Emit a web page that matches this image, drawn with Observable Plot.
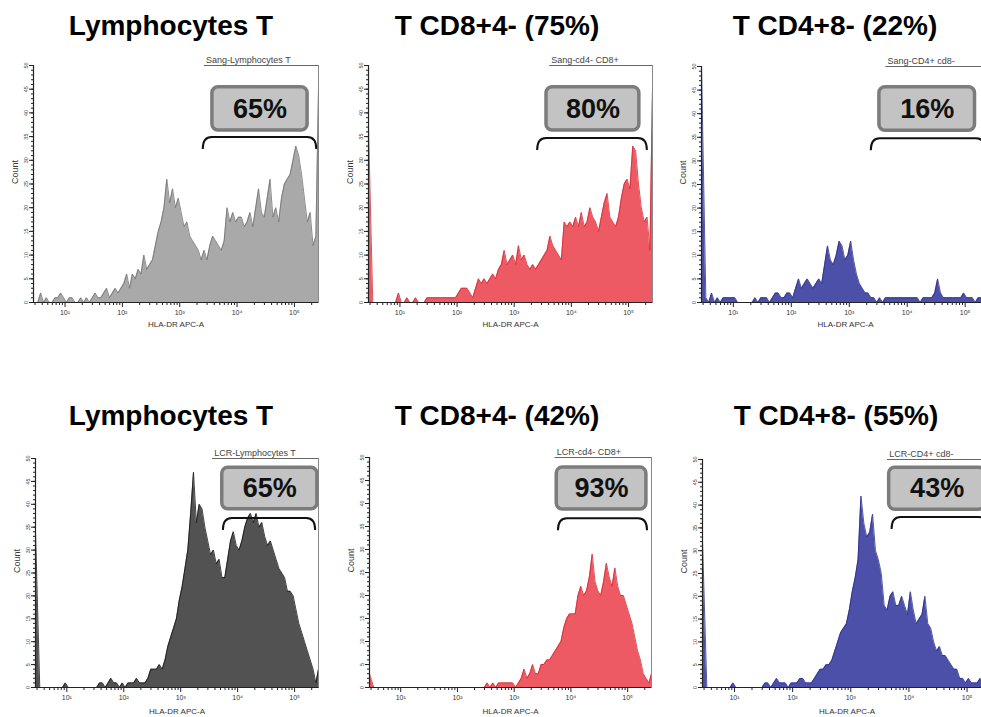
<!DOCTYPE html>
<html><head><meta charset="utf-8">
<script src="https://cdn.jsdelivr.net/npm/d3@7"></script>
<script src="https://cdn.jsdelivr.net/npm/@observablehq/plot@0.6"></script>
<style>
body{margin:0;background:#fff;}
#page{position:relative;width:981px;height:717px;overflow:hidden;font-family:"Liberation Sans",Arial,sans-serif;background:#fff;}
.panel{position:absolute;}
#titles{position:absolute;left:0;top:0;}
</style></head><body><div id="page"></div>
<script>
// ---- data ----
const titles = ["Lymphocytes T", "T CD8+4- (75%)", "T CD4+8- (22%)", "Lymphocytes T", "T CD8+4- (42%)", "T CD4+8- (55%)"];
const gateNames = ["Sang-Lymphocytes T", "Sang-cd4- CD8+", "Sang-CD4+ cd8-", "LCR-Lymphocytes T", "LCR-cd4- CD8+", "LCR-CD4+ cd8-"];
const gatePercents = ["65%", "80%", "16%", "65%", "93%", "43%"];
// gate (bracket) limits in log10 of HLA-DR APC-A
const gateLo = [3.41, 3.41, 3.38, 3.75, 3.78, 3.71];
const gateHi = [5.39, 5.33, 5.35, 5.37, 5.35, 5.36];
// channel grid: log10 from 0.45 in steps of 0.05 (100 channels), display up to 10^5.42
const channelLogMin = 0.45, channelLogStep = 0.05, displayLogMax = 5.42;
const majorTicks = [10, 100, 1000, 10000, 100000];
const majorTickLabels = ["10¹", "10²", "10³", "10⁴", "10⁵"];
const countTicks = [0, 5, 10, 15, 20, 25, 30, 35, 40, 45, 50];

const sangLymphoT = [0,0,2,0,1,0,0,1,1,2, 1,0,1,1,0,0,1,0,1,0, 1,2,1,1,2,3,1,2,3,2, 3,4,6,3,6,5,7,6,10,7,
  8,9,12,15,17,20,26,21,24,20, 22,19,16,17,14,13,12,11,9,11, 9,12,14,13,12,11,13,20,17,19,
  17,18,18,16,17,19,16,20,24,19, 18,22,26,18,20,17,22,25,26,27, 30,33,31,27,22,17,19,12,14,45];
const sangCD8 = [37,0,0,0,0,0,0,0,0,0, 2,0,0,1,0,0,1,0,0,0, 1,1,1,1,1,1,1,1,1,1, 1,2,3,3,3,2,1,3,5,4,
  5,4,5,6,5,7,8,11,8,9, 10,8,12,9,10,8,7,8,7,8, 9,10,11,14,12,11,10,9,17,16,
  17,16,18,16,19,16,17,20,18,17, 15,18,21,23,18,17,16,18,22,25, 26,24,33,32,25,20,17,18,11,45];
const sangCD4 = [50,1,0,2,0,1,0,1,1,1, 1,1,0,0,0,0,0,0,1,0, 1,1,1,0,1,2,2,1,1,2, 2,1,3,5,3,4,5,4,3,4,
  5,4,8,12,9,8,10,13,12,9, 10,13,9,6,4,3,2,2,1,1, 0,1,0,1,1,1,1,1,1,1,
  1,1,1,1,1,0,1,1,1,1, 2,5,2,1,1,1,1,1,1,1, 2,1,1,1,0,1,1,1,1,1];
const lcrLymphoT = [34,0,0,0,0,0,0,0,0,0, 1,0,0,0,0,0,0,0,0,0, 0,0,1,1,0,1,2,1,1,0, 1,0,1,1,1,2,1,1,1,2,
  4,4,4,5,4,6,9,11,13,15, 19,22,26,30,38,47,36,40,39,35, 32,29,30,27,28,24,24,28,32,34,
  31,30,32,35,37,38,36,38,35,36, 33,31,32,30,28,26,25,24,21,21, 20,17,14,12,10,8,6,4,1,4];
const lcrCD8 = [3,0,0,0,0,0,0,0,0,0, 0,0,0,0,0,0,0,0,0,0, 0,0,0,0,0,0,0,0,0,0, 0,0,0,0,0,0,0,0,0,0,
  0,1,0,1,0,1,1,1,1,1, 1,0,1,2,4,2,3,5,3,3, 5,5,6,6,7,8,9,10,13,15,
  16,16,16,20,22,20,21,24,29,23, 21,20,23,27,24,22,26,22,20,20, 18,16,14,11,8,6,3,2,1,3];
const lcrCD4 = [32,0,0,0,0,0,0,0,0,0, 1,0,0,0,0,0,0,0,0,0, 0,1,1,0,1,2,1,1,1,0, 1,1,1,2,2,1,1,1,2,3,
  4,4,5,5,6,8,10,12,13,14, 17,21,24,28,42,36,33,34,38,30, 28,25,18,17,20,21,18,18,20,18,
  16,21,17,14,15,16,20,14,13,10, 8,9,7,7,6,5,4,4,2,2, 1,2,1,1,1,2,1,1,1,1];
const series = [sangLymphoT, sangCD8, sangCD4, lcrLymphoT, lcrCD8, lcrCD4];

// ---- layout & style ----
const layout = [
  {left:33,  right:318, top:65,  base:302, tcx:171, tby:35,  axT:24, gateTxt:3.46, box:[3.57,5.23,36.3,45.4], brk:34.8},
  {left:368, right:652, top:65,  base:302, tcx:497, tby:35,  axT:24, gateTxt:3.65, box:[3.565,5.19,36.3,45.4], brk:34.6},
  {left:701, right:989, top:66,  base:302, tcx:835, tby:35,  axT:24, gateTxt:3.66, box:[3.52,5.17,36.4,45.6], brk:34.7},
  {left:35,  right:318, top:458, base:687, tcx:171, tby:425, axT:26, gateTxt:3.59, box:[3.73,5.40,38.9,48.0], brk:36.9},
  {left:369, right:651, top:457, base:687, tcx:497, tby:425, axT:26, gateTxt:3.75, box:[3.75,5.33,38.7,47.8], brk:36.7},
  {left:702, right:991, top:459, base:687, tcx:836, tby:425, axT:26, gateTxt:3.66, box:[3.66,5.31,39.0,48.2], brk:37.3}
];
const fills   = ["#a9a9a9", "#ee5a63", "#4d50a8", "#525252", "#ee5a63", "#4d50a8"];
const strokes = ["#707070", "#d22a35", "#2c2e8a", "#161616", "#d22a35", "#2c2e8a"];

const page = document.getElementById("page");
const FONT = "'Liberation Sans', Arial, sans-serif";

// titles
const tsvg = d3.select(page).append("svg").attr("id","titles").attr("width",981).attr("height",717);
titles.forEach((t, k) => {
  tsvg.append("text").attr("x", layout[k].tcx).attr("y", layout[k].tby)
    .attr("text-anchor","middle").attr("font-family",FONT).attr("font-weight","bold")
    .attr("font-size",28).attr("fill","#000").text(t);
});

const xlo = 10 ** channelLogMin, xhi = 10 ** displayLogMax;
const minorTicks = [];
for (let e = 0; e <= 5; e++) for (let m = 2; m <= 9; m++) { const v = m * 10 ** e; if (v >= xlo && v <= xhi) minorTicks.push(v); }

function drawPanel(k) {
  const L = layout[k], counts = series[k];
  const mL = 34, mR = 4, mT = 16, mB = 34;
  const w = L.right - L.left, h = L.base - L.top;
  const n = counts.length;
  // channel centres; first and last channels sit on the display edges
  const pts = [{x: xlo, y: 0}];
  counts.forEach((c, i) => {
    let x = 10 ** (channelLogMin + (i + 0.5) * channelLogStep);
    if (i === 0) x = xlo;
    if (i === n - 1) x = xhi;
    pts.push({x, y: c});
  });
  pts.push({x: xhi, y: 0});
  const [bx1, bx2, by1, by2] = L.box;
  const plot = Plot.plot({
    width: w + mL + mR, height: h + mT + mB,
    marginLeft: mL, marginRight: mR, marginTop: mT, marginBottom: mB,
    x: {type: "log", domain: [xlo, xhi]},
    y: {domain: [0, 50]},
    style: {fontFamily: FONT, background: "transparent", overflow: "visible", color: "#222"},
    marks: [
      Plot.areaY(pts, {x: "x", y: "y", curve: "linear", fill: fills[k]}),
      Plot.lineY(pts, {x: "x", y: "y", curve: "linear", stroke: strokes[k], strokeWidth: 0.8}),
      Plot.axisX({ticks: minorTicks, tickSize: 3, tickFormat: () => "", label: null, stroke: "#222"}),
      Plot.axisX({ticks: majorTicks, tickSize: 5, tickPadding: 3, tickFormat: d => majorTickLabels[majorTicks.indexOf(d)], fontSize: 7, label: null, stroke: "#222", fill: "#333"}),
      Plot.axisY({ticks: d3.range(0, 51), tickSize: 2, tickFormat: () => "", label: null, stroke: "#222"}),
      Plot.axisY({ticks: countTicks, tickSize: 4, tickPadding: 2, tickRotate: -90, fontSize: 5.5, label: null, stroke: "#222", fill: "#444"}),
      Plot.ruleY([0], {stroke: "#222", strokeWidth: 1.2}),
      Plot.ruleX([xlo], {stroke: "#222", strokeWidth: 1.2}),
      Plot.ruleX([xhi], {y1: 0, y2: 50, stroke: "#888"}),
      Plot.ruleY([50], {x1: 10 ** (L.gateTxt - 0.03), x2: xhi, stroke: "#666"}),
      Plot.text([gateNames[k]], {x: 10 ** L.gateTxt, y: 50, dy: -5, textAnchor: "start", fontSize: 9, fill: "#444"}),
      Plot.text(["Count"], {frameAnchor: "left", dx: -18, rotate: -90, fontSize: 9, fill: "#333"}),
      Plot.text(["HLA-DR APC-A"], {frameAnchor: "bottom", dy: L.axT, fontSize: 8, fill: "#333"}),
      Plot.rect([0], {x1: 10 ** bx1, x2: 10 ** bx2, y1: by1, y2: by2, rx: 6, fill: "#c3c3c3", stroke: "#7c7c7c", strokeWidth: 3.5}),
      Plot.text([gatePercents[k]], {x: 10 ** ((bx1 + bx2) / 2), y: (by1 + by2) / 2, fontSize: 27, fontWeight: "bold", fill: "#111"})
    ]
  });
  // gate bracket
  const sxs = d3.scaleLog().domain([xlo, xhi]).range([mL, mL + w]);
  const sys = d3.scaleLinear().domain([0, 50]).range([mT + h, mT]);
  const x1 = sxs(10 ** gateLo[k]), x2 = sxs(10 ** gateHi[k]);
  const yt = sys(L.brk), yb = yt + 12, r = 9;
  d3.select(plot).append("path")
    .attr("d", `M${x1},${yb} Q${x1},${yt} ${x1 + r},${yt} L${x2 - r},${yt} Q${x2},${yt} ${x2},${yb}`)
    .attr("fill", "none").attr("stroke", "#111").attr("stroke-width", 2);
  plot.classList.add("panel");
  plot.style.left = (L.left - mL) + "px";
  plot.style.top = (L.top - mT) + "px";
  page.appendChild(plot);
}
for (let k = 0; k < 6; k++) drawPanel(k);
</script>
</body></html>
